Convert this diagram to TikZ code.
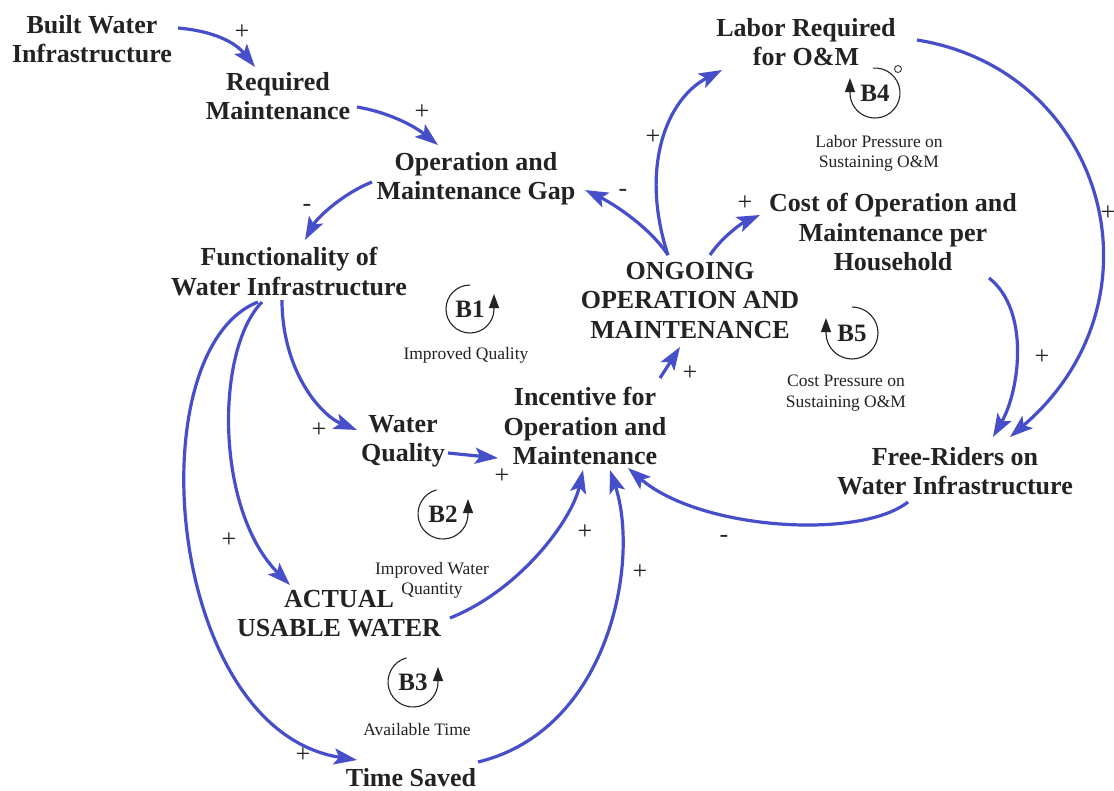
\documentclass[tikz,border=0pt]{standalone}
\usepackage{fontspec}
\setmainfont{Liberation Serif}
\usetikzlibrary{arrows.meta}

\definecolor{linkblue}{RGB}{70,78,202}
\definecolor{ink}{RGB}{35,35,35}

\tikzset{
  var/.style={anchor=north, align=center, inner sep=0pt,
    font=\fontsize{26}{29.5}\selectfont\bfseries, text=ink},
  loopname/.style={inner sep=0pt, font=\fontsize{25}{27}\selectfont\bfseries, text=ink},
  looplabel/.style={anchor=north, align=center, inner sep=0pt,
    font=\fontsize{17.5}{20.5}\selectfont, text=ink},
  sign/.style={inner sep=0pt, font=\fontsize{26}{28}\selectfont, text=ink},
  link/.style={draw=linkblue, line width=3.2pt,
    -{Stealth[length=23pt,width=16pt,inset=5pt]}},
  loopring/.style={draw=ink, line width=1.1pt, -{Triangle[length=14pt,width=10pt]}},
}

\begin{document}
\begin{tikzpicture}[x=1pt,y=-1pt]
\fill[white] (0,0) rectangle (1114,790);
\useasboundingbox (0,0) rectangle (1114,790);

% variables
\node[var] (built)  at (92,15)   {Built Water\\Infrastructure};
\node[var] (req)    at (278,72)  {Required\\Maintenance};
\node[var] (gap)    at (476,152) {Operation and\\Maintenance Gap};
\node[var] (func)   at (289,247) {Functionality of\\Water Infrastructure};
\node[var] (wq)     at (403,415) {Water\\Quality};
\node[var] (inc)    at (585,387) {Incentive for\\Operation and\\Maintenance};
\node[var] (ongo)   at (690,262) {ONGOING\\OPERATION AND\\MAINTENANCE};
\node[var] (labor)  at (806,18)  {Labor Required\\for O\&M};
\node[var] (cost)   at (893,193) {Cost of Operation and\\Maintenance per\\Household};
\node[var] (free)   at (955,447) {Free-Riders on\\Water Infrastructure};
\node[var] (actual) at (339,590) {ACTUAL\\USABLE WATER};
\node[var] (time)   at (411,768) {Time Saved};

% causal links
\draw[link] ([shift={(86,13)}]built.north) .. controls +(35,3) and +(-20,-25) .. ([shift={(-23,-5)}]req.north);
\draw[link] ([shift={(79,35)}]req.north) .. controls +(30,5) and +(-25,-20) .. ([shift={(-38,-7)}]gap.north);
\draw[link] ([shift={(-104,30)}]gap.north) .. controls +(-30,12) and +(12,-22) .. ([shift={(16,-7)}]func.north);
\draw[link] ([shift={(-22,-7)}]ongo.north) .. controls +(-20,-30) and +(25,12) .. ([shift={(109,38)}]gap.north);
\draw[link] ([shift={(-22,-7)}]ongo.north) .. controls +(-28,-85) and +(-57,30) .. ([shift={(-84,52)}]labor.north);
\draw[link] ([shift={(20,-7)}]ongo.north) .. controls +(12,-18) and +(-18,8) .. ([shift={(-133,22)}]cost.north);
\draw[link] ([shift={(111,22)}]labor.north) .. controls +(188,30) and +(160,-137) .. ([shift={(55,-10)}]free.north);
\draw[link] ([shift={(96,85)}]cost.north) .. controls +(41,32) and +(27,-47) .. ([shift={(38,-10)}]free.north);
\draw[link] ([shift={(-47,55)}]free.north) .. controls +(-48,38) and +(72,62) .. ([shift={(43,81)}]inc.north);
\draw[link] ([shift={(-7,53)}]func.north) .. controls +(0,70) and +(-37,-15) .. ([shift={(-46,15)}]wq.north);
\draw[link] ([shift={(45,38)}]wq.north) -- ([shift={(-87,71)}]inc.north);
\draw[link] ([shift={(75,-9)}]inc.north) -- ([shift={(-10,85)}]ongo.north);
\draw[link] ([shift={(-27,55)}]func.north) .. controls +(-47,48) and +(-75,-75) .. ([shift={(-49,-5)}]actual.north);
\draw[link] ([shift={(-31,55)}]func.north) .. controls +(-122,48) and +(-192,-30) .. ([shift={(-54,-8)}]time.north);
\draw[link] ([shift={(111,28)}]actual.north) .. controls +(70,-28) and +(-11,50) .. ([shift={(-2,83)}]inc.north);
\draw[link] ([shift={(67,-6)}]time.north) .. controls +(132,-32) and +(30,90) .. ([shift={(25,83)}]inc.north);

% polarities
\node[sign] (s1)  at (242,32)   {+};
\node[sign] (s2)  at (422,112)  {+};
\node[sign] (s3)  at (307,208)  {-};
\node[sign] (s4)  at (623,193)  {-};
\node[sign] (s5)  at (653,137)  {+};
\node[sign] (s6)  at (745,203)  {+};
\node[sign] (s7)  at (1108,213) {+};
\node[sign] (s8)  at (1042,357) {+};
\node[sign] (s9)  at (724,539)  {-};
\node[sign] (s10) at (319,430)  {+};
\node[sign] (s11) at (502,476)  {+};
\node[sign] (s12) at (690,373)  {+};
\node[sign] (s13) at (229,540)  {+};
\node[sign] (s14) at (303,755)  {+};
\node[sign] (s15) at (585,532)  {+};
\node[sign] (s16) at (640,572)  {+};

% balancing loops
\node[loopname] (b1) at (470,309) {B1};
\draw[loopring] ([shift={(90:24pt)}]b1.center) arc[start angle=90, end angle=360, radius=24pt] -- ++(0pt,15pt);
\node[looplabel] (l1) at (466,347) {Improved Quality};

\node[loopname] (b2) at (443,514) {B2};
\draw[loopring] ([shift={(105:25pt)}]b2.center) arc[start angle=105, end angle=360, radius=25pt] -- ++(0pt,15pt);
\node[looplabel] (l2) at (432,562) {Improved Water\\Quantity};

\node[loopname] (b3) at (413,682) {B3};
\draw[loopring] ([shift={(105:25pt)}]b3.center) arc[start angle=105, end angle=360, radius=25pt] -- ++(0pt,15pt);
\node[looplabel] (l3) at (417,723) {Available Time};

\node[loopname] (b4) at (875,93) {B4};
\draw[loopring] ([shift={(95:25pt)}]b4.center) arc[start angle=95, end angle=-180, radius=25pt] -- ++(0pt,15pt);
\draw[ink, line width=0.8pt] ([shift={(23,-24)}]b4.center) circle[radius=3.5pt];
\node[looplabel] (l4) at (879,135) {Labor Pressure on\\Sustaining O\&M};

\node[loopname] (b5) at (852,333) {B5};
\draw[loopring] ([shift={(90:26pt)}]b5.center) arc[start angle=90, end angle=-180, radius=26pt] -- ++(0pt,15pt);
\node[looplabel] (l5) at (846,375) {Cost Pressure on\\Sustaining O\&M};
\end{tikzpicture}
\end{document}
